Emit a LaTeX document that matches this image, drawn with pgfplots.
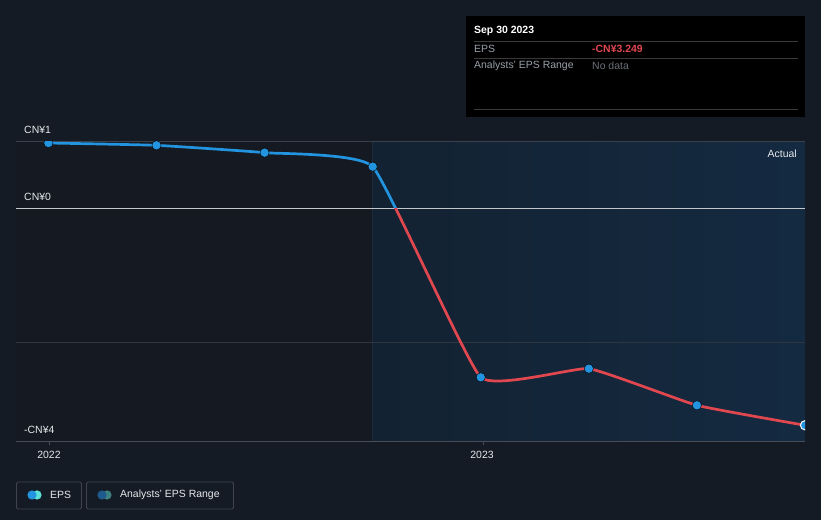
\documentclass[border=0pt]{standalone}
\usepackage{pgfplots}
\pgfplotsset{compat=1.18}
\usepackage{fontspec}
\setmainfont{Liberation Sans}
\definecolor{bg}{HTML}{151B25}
\definecolor{plotl}{HTML}{141922}
\definecolor{shadeA}{HTML}{132232}
\definecolor{shadeB}{HTML}{142A41}
\definecolor{epsblue}{HTML}{2394DF}
\definecolor{epsred}{HTML}{E0474F}
\definecolor{gridc}{HTML}{3B414B}
\definecolor{txt}{HTML}{E6E8EB}
\definecolor{graytxt}{HTML}{9AA0A8}
\definecolor{dimtxt}{HTML}{6B7078}
\definecolor{vline}{HTML}{1E2B3A}
\definecolor{botline}{HTML}{474C55}
\definecolor{zeroline}{HTML}{C3C6CB}
\definecolor{tipline}{HTML}{3A3A3A}
\definecolor{legbox}{HTML}{3F444D}
\definecolor{cyanl}{HTML}{5CE0D8}
\definecolor{tealc}{HTML}{3C8080}
\definecolor{dblue}{HTML}{1F5A8E}
\begin{document}
\begin{tikzpicture}
\begin{scope}[x=1bp,y=1bp]
\fill[bg] (0,0) rectangle (821,520);
\end{scope}
\begin{axis}[
  at={(16bp,78bp)}, anchor=south west,
  scale only axis, width=789bp, height=300bp,
  xmin=2021.925, xmax=2023.75, ymin=-3.5, ymax=1,
  axis lines=none, clip=true, clip marker paths=true,
]
% background regions
\fill[plotl] (axis cs:2021.925,-3.5) rectangle (axis cs:2022.75,1);
\fill[left color=shadeA, right color=shadeB] (axis cs:2022.75,-3.5) rectangle (axis cs:2023.75,1);
\draw[vline] (axis cs:2022.75,-3.5) -- (axis cs:2022.75,1);
% grid lines
\draw[gridc, line width=1bp] (axis cs:2021.925,1) -- (axis cs:2023.75,1);
\draw[color=gridc!70!bg, line width=0.8bp] (axis cs:2021.925,-2) -- (axis cs:2023.75,-2);
\draw[botline, line width=1bp] (axis cs:2021.925,-3.5) -- (axis cs:2023.75,-3.5);
\draw[zeroline, line width=1.3bp] (axis cs:2021.925,0) -- (axis cs:2023.75,0);
% EPS line: blue above zero, red below
\begin{scope}
\clip (axis cs:2021.9,0) rectangle (axis cs:2023.8,1.2);
\addplot[epsblue, line width=2.7bp, smooth, tension=0.22] coordinates {
(2022.0,0.985) (2022.25,0.95) (2022.5,0.84) (2022.75,0.63) (2023.0,-2.53) (2023.25,-2.40) (2023.5,-2.95) (2023.75,-3.249)};
\end{scope}
\begin{scope}
\clip (axis cs:2021.9,0) rectangle (axis cs:2023.8,-3.6);
\addplot[epsred, line width=2.7bp, smooth, tension=0.22] coordinates {
(2022.0,0.985) (2022.25,0.95) (2022.5,0.84) (2022.75,0.63) (2023.0,-2.53) (2023.25,-2.40) (2023.5,-2.95) (2023.75,-3.249)};
\end{scope}
\addplot[only marks, mark=*, mark size=4.6bp, mark options={fill=epsblue, draw=none}] coordinates {
(2022.0,0.985) (2022.25,0.95) (2022.5,0.84) (2022.75,0.63) (2023.0,-2.53) (2023.25,-2.40) (2023.5,-2.95)};
\addplot[only marks, mark=*, mark size=4.6bp, mark options={fill=epsblue, draw=white, line width=1bp}] coordinates {(2023.75,-3.249)};
\end{axis}
\begin{scope}[x=1bp,y=1bp]
% y labels
\node[anchor=west, text=txt, font=\fontsize{10.5}{12}\selectfont, inner sep=0] at (24,390) {CN¥1};
\node[anchor=west, text=txt, font=\fontsize{10.5}{12}\selectfont, inner sep=0] at (24,323) {CN¥0};
\node[anchor=west, text=txt, font=\fontsize{10.5}{12}\selectfont, inner sep=0] at (24,90) {-CN¥4};
% x ticks
\draw[botline] (49.3,78) -- (49.3,75);
\draw[botline] (482.7,78) -- (482.7,75);
\node[text=txt, font=\fontsize{10.5}{12}\selectfont, inner sep=0] at (49,65) {2022};
\node[text=txt, font=\fontsize{10.5}{12}\selectfont, inner sep=0] at (482,65) {2023};
% Actual
\node[anchor=east, text=txt, font=\fontsize{10.5}{12}\selectfont, inner sep=0] at (797,366) {Actual};
% tooltip
\fill[black] (466,403) rectangle (805,504);
\draw[tipline, line width=0.8bp] (474,479) -- (798,479);
\draw[tipline, line width=0.8bp] (474,462) -- (798,462);
\draw[tipline, line width=0.8bp] (474,411) -- (798,411);
\node[anchor=west, text=white, font=\fontsize{10.5}{12}\selectfont\bfseries, inner sep=0] at (474,489) {Sep 30 2023};
\node[anchor=west, text=graytxt, font=\fontsize{10.5}{12}\selectfont, inner sep=0] at (474,471) {EPS};
\node[anchor=west, text=epsred, font=\fontsize{10.5}{12}\selectfont\bfseries, inner sep=0] at (592,471) {-CN¥3.249};
\node[anchor=west, text=graytxt, font=\fontsize{10.5}{12}\selectfont, inner sep=0] at (474,454) {Analysts' EPS Range};
\node[anchor=west, text=dimtxt, font=\fontsize{10.5}{12}\selectfont, inner sep=0] at (592,454) {No data};
% legend
\draw[legbox, line width=0.8bp, rounded corners=1.5bp] (16.5,11) rectangle (81.5,38);
\fill[cyanl] (37,25) circle (4.6);
\fill[epsblue] (32,25) circle (4.6);
\node[anchor=west, text=txt, font=\fontsize{10.5}{12}\selectfont, inner sep=0] at (50,25) {EPS};
\draw[legbox, line width=0.8bp, rounded corners=1.5bp] (86.5,11) rectangle (233.5,38);
\fill[tealc] (107,25) circle (4.6);
\fill[dblue] (102,25) circle (4.6);
\node[anchor=west, text=txt, font=\fontsize{10.5}{12}\selectfont, inner sep=0] at (120,25) {Analysts' EPS Range};
\end{scope}
\end{tikzpicture}
\end{document}
